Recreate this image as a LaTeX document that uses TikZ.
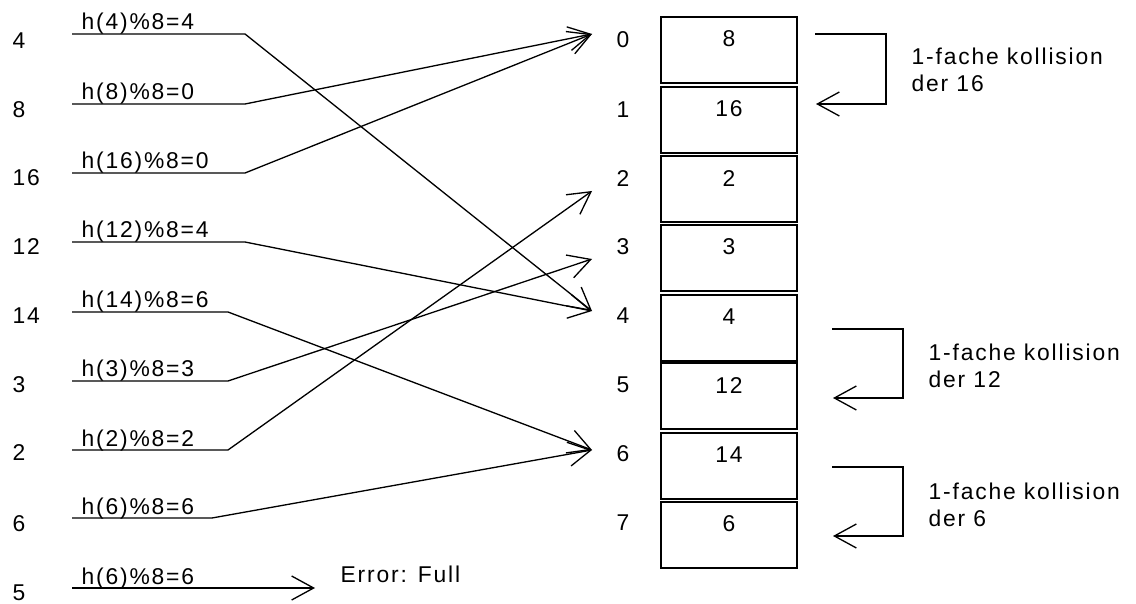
\documentclass[tikz,border=0pt]{standalone}
\usepackage{fontspec}
\setmainfont{Liberation Sans}[LetterSpace=8]
\usepackage{tikz}
\usetikzlibrary{arrows.meta}
\usetikzlibrary{positioning}
\tikzset{every picture/.style={line width=0.75pt},
  every node/.style={font=\fontsize{13}{15.4}\selectfont, inner sep=0pt},
  hasharrow/.style={-{Straight Barb[length=4.4mm,width=4.8mm]}},
  slot/.style={draw, line width=1pt, minimum width=2.72cm, minimum height=1.32cm},
  hashlabel/.style={anchor=base west},
  keylabel/.style={anchor=west},
  note/.style={anchor=west, align=left}}

\begin{document}
\begin{tikzpicture}[x=0.02cm, y=-0.02cm]
\useasboundingbox (0,0) rectangle (1136,604);

% keys to insert
\node (k0) at (12,41) [keylabel] {4};
\node (k1) at (12,110) [keylabel] {8};
\node (k2) at (12,178) [keylabel] {16};
\node (k3) at (12,247) [keylabel] {12};
\node (k4) at (12,316) [keylabel] {14};
\node (k5) at (12,385) [keylabel] {3};
\node (k6) at (12,453) [keylabel] {2};
\node (k7) at (12,524) [keylabel] {6};
\node (k8) at (12,593) [keylabel] {5};

% hash values
\node (h0) at (81,30) [hashlabel] {h(4)\%8=4};
\node (h1) at (81,100) [hashlabel] {h(8)\%8=0};
\node (h2) at (81,169) [hashlabel] {h(16)\%8=0};
\node (h3) at (81,238) [hashlabel] {h(12)\%8=4};
\node (h4) at (81,308) [hashlabel] {h(14)\%8=6};
\node (h5) at (81,377) [hashlabel] {h(3)\%8=3};
\node (h6) at (81,446) [hashlabel] {h(2)\%8=2};
\node (h7) at (81,514) [hashlabel] {h(6)\%8=6};
\node (h8) at (81,584) [hashlabel] {h(6)\%8=6};

% table slots
\node (s0) at (729,50) [slot] {};
\node (s1) at (729,120) [slot] {};
\node (s2) at (729,189) [slot] {};
\node (s3) at (729,258) [slot] {};
\node (s4) at (729,328) [slot] {};
\node (s5) at (729,396) [slot] {};
\node (s6) at (729,466) [slot] {};
\node (s7) at (729,535) [slot] {};

\node (v0) at (s0.north) [yshift=-0.46cm] {8};
\node (v1) at (s1.north) [yshift=-0.46cm] {16};
\node (v2) at (s2.north) [yshift=-0.46cm] {2};
\node (v3) at (s3.north) [yshift=-0.46cm] {3};
\node (v4) at (s4.north) [yshift=-0.46cm] {4};
\node (v5) at (s5.north) [yshift=-0.46cm] {12};
\node (v6) at (s6.north) [yshift=-0.46cm] {14};
\node (v7) at (s7.north) [yshift=-0.46cm] {6};

% slot indices
\node (i0) at (623,40) {0};
\node (i1) at (623,110) {1};
\node (i2) at (623,179) {2};
\node (i3) at (623,247) {3};
\node (i4) at (623,316) {4};
\node (i5) at (623,385) {5};
\node (i6) at (623,454) {6};
\node (i7) at (623,523) {7};

% arrow tips in front of the indices
\coordinate (t0) at (592,34);
\coordinate (t2) at (592,191);
\coordinate (t3) at (592,259);
\coordinate (t4) at (592,311);
\coordinate (t6) at (592,450);
\coordinate (t8) at (315,588);

% underlines
\coordinate (u0) at (72,34);
\coordinate (u1) at (72,104);
\coordinate (u2) at (72,173);
\coordinate (u3) at (72,242);
\coordinate (u4) at (72,312);
\coordinate (u5) at (72,381);
\coordinate (u6) at (72,450);
\coordinate (u7) at (72,518);
\coordinate (u8) at (72,588);

\draw[hasharrow] (u0) -- +(173,0) -- (t4);
\draw[hasharrow] (u1) -- +(173,0) -- (t0);
\draw[hasharrow] (u2) -- +(173,0) -- (t0);
\draw[hasharrow] (u3) -- +(173,0) -- (t4);
\draw[hasharrow] (u4) -- +(156,0) -- (t6);
\draw[hasharrow] (u5) -- +(156,0) -- (t3);
\draw[hasharrow] (u6) -- +(156,0) -- (t2);
\draw[hasharrow] (u7) -- +(140,0) -- (t6);
\draw[hasharrow] (u8) -- (t8);

\node (err) at (340,574) [anchor=west] {Error: Full};

% collisions
\coordinate (c0) at (815,34);
\coordinate (c1) at (816,104);
\coordinate (c2) at (832,329);
\coordinate (c3) at (833,398);
\coordinate (c4) at (832,467);
\coordinate (c5) at (833,536);
\draw[hasharrow] (c0) -- +(71,0) |- (c1);
\draw[hasharrow] (c2) -- +(71,0) |- (c3);
\draw[hasharrow] (c4) -- +(71,0) |- (c5);

\node (n0) at (911,69.5) [note] {1-fache kollision\\der 16};
\node (n1) at (928,366) [note] {1-fache kollision\\der 12};
\node (n2) at (928,504.5) [note] {1-fache kollision\\der 6};
\end{tikzpicture}
\end{document}
